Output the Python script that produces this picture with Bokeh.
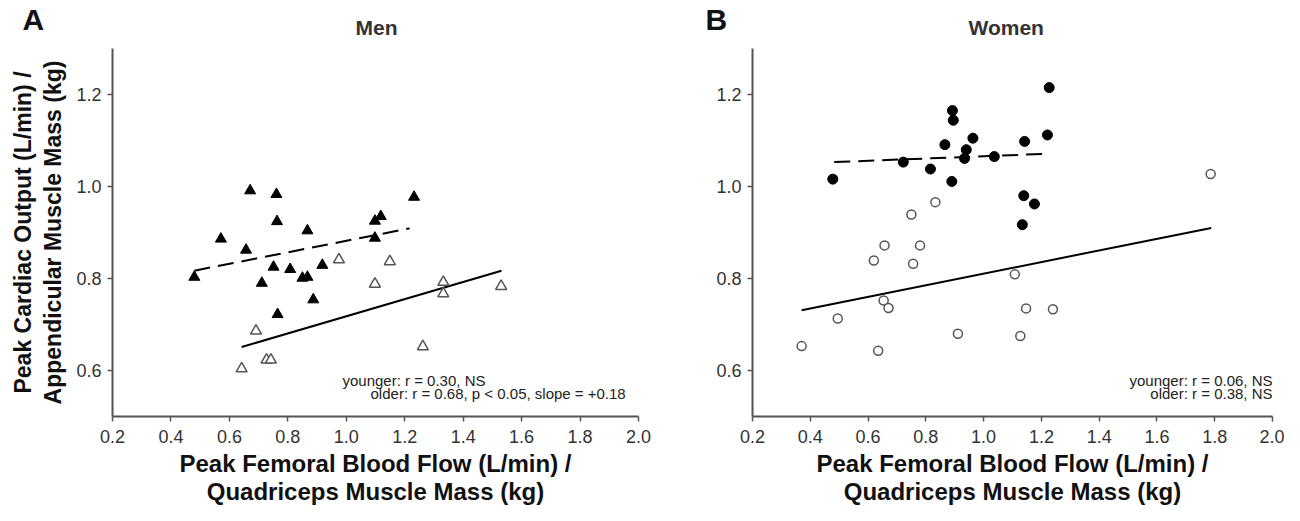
from bokeh.plotting import figure
from bokeh.models import Label, FixedTicker, Range1d, NumeralTickFormatter, Title
from bokeh.layouts import row
from bokeh.embed import file_html
from bokeh.resources import INLINE

FONT = "Liberation Sans"

# ---- data ----
x_ticks = [0.2, 0.4, 0.6, 0.8, 1.0, 1.2, 1.4, 1.6, 1.8, 2.0]
y_ticks = [0.6, 0.8, 1.0, 1.2]

men_young_x = [0.671, 0.761, 1.232, 1.118, 1.098, 0.763, 0.867, 0.571, 1.098, 0.657,
               0.918, 0.751, 0.808, 0.850, 0.867, 0.480, 0.711, 0.887, 0.765]
men_young_y = [0.991, 0.983, 0.977, 0.935, 0.925, 0.924, 0.904, 0.886, 0.888, 0.862,
               0.829, 0.825, 0.820, 0.801, 0.803, 0.803, 0.790, 0.754, 0.722]
men_old_x = [0.975, 1.149, 1.098, 1.332, 1.332, 1.530, 0.691, 1.262, 0.727, 0.742, 0.642]
men_old_y = [0.841, 0.837, 0.788, 0.792, 0.767, 0.783, 0.686, 0.652, 0.623, 0.623, 0.604]
men_young_fit_x = [0.48, 1.217]
men_young_fit_y = [0.817, 0.909]
men_old_fit_x = [0.642, 1.531]
men_old_fit_y = [0.651, 0.817]

women_young_x = [1.227, 0.892, 0.895, 0.963, 1.221, 1.142, 0.866, 0.940, 0.934, 1.037,
                 0.722, 0.816, 0.478, 0.890, 1.139, 1.176, 1.134]
women_young_y = [1.215, 1.165, 1.144, 1.105, 1.112, 1.098, 1.091, 1.080, 1.061, 1.065,
                 1.053, 1.038, 1.016, 1.011, 0.980, 0.962, 0.917]
women_old_x = [1.786, 0.833, 0.750, 0.657, 0.780, 0.620, 0.756, 1.108, 0.654, 0.671,
               1.147, 1.240, 0.495, 0.911, 1.127, 0.370, 0.635]
women_old_y = [1.027, 0.966, 0.939, 0.872, 0.872, 0.839, 0.832, 0.809, 0.752, 0.736,
               0.735, 0.733, 0.713, 0.680, 0.675, 0.653, 0.643]
women_young_fit_x = [0.483, 1.215]
women_young_fit_y = [1.053, 1.071]
women_old_fit_x = [0.370, 1.788]
women_old_fit_y = [0.731, 0.910]

x_label_1 = "Peak Femoral Blood Flow (L/min) /"
x_label_2 = "Quadriceps Muscle Mass (kg)"
y_label_1 = "Peak Cardiac Output (L/min) /"
y_label_2 = "Appendicular Muscle Mass (kg)"


def make_panel(width, left, right):
    p = figure(width=width, height=505, x_range=Range1d(0.2, 2.0), y_range=Range1d(0.5, 1.3),
               output_backend="svg", toolbar_location=None,
               min_border_left=left, min_border_right=right,
               min_border_top=48, min_border_bottom=89)
    p.outline_line_color = None
    p.grid.visible = False
    p.background_fill_color = "white"
    p.border_fill_color = "white"
    p.xaxis.ticker = FixedTicker(ticks=x_ticks)
    p.yaxis.ticker = FixedTicker(ticks=y_ticks)
    for ax in (p.xaxis, p.yaxis):
        ax.formatter = NumeralTickFormatter(format="0.0")
        ax.axis_line_color = "#555555"
        ax.axis_line_width = 2
        ax.major_tick_line_color = "#555555"
        ax.major_tick_line_width = 1.5
        ax.major_tick_out = 5
        ax.major_tick_in = 0
        ax.minor_tick_line_color = None
        ax.major_label_text_font = FONT
        ax.major_label_text_font_size = "18px"
        ax.major_label_text_color = "#333333"
    p.xaxis.major_label_standoff = 8
    p.yaxis.major_label_standoff = 6
    return p


def side_title(p, text, place, size, standoff, align="center", offset=0, color="#111111"):
    p.add_layout(Title(text=text, align=align, text_font=FONT, text_font_size=size,
                       text_font_style="bold", text_color=color, standoff=standoff,
                       offset=offset), place)


def lbl(p, x, y, text, size, align="center", color="#222222"):
    p.add_layout(Label(x=x, y=y, text=text, text_font=FONT, text_font_size=size,
                       text_align=align, text_baseline="middle", text_color=color))


# ---- Panel A ----
pA = make_panel(700, 112, 62)
pA.line(men_young_fit_x, men_young_fit_y, line_color="black", line_width=2, line_dash="16 8")
pA.line(men_old_fit_x, men_old_fit_y, line_color="black", line_width=2)
pA.scatter(men_old_x, men_old_y, marker="triangle", size=11, fill_color="white",
           line_color="#555555", line_width=1.5)
pA.scatter(men_young_x, men_young_y, marker="triangle", size=11, fill_color="black",
           line_color="black")

side_title(pA, "Men", "above", "21px", 19, align="left", offset=243, color="#333333")
side_title(pA, "A", "above", "30px", -63, align="left", offset=-90)
side_title(pA, y_label_2, "left", "23px", 15)
side_title(pA, y_label_1, "left", "23px", -10)
side_title(pA, x_label_1, "below", "24px", 4)
side_title(pA, x_label_2, "below", "24px", -5)
lbl(pA, 0.987, 0.5783, "younger: r = 0.30, NS", "15px", align="left")
lbl(pA, 1.083, 0.550, "older: r = 0.68, p < 0.05, slope = +0.18", "15px", align="left")

# ---- Panel B ----
pB = make_panel(584, 52, 12)
pB.line(women_young_fit_x, women_young_fit_y, line_color="black", line_width=2, line_dash="16 8")
pB.line(women_old_fit_x, women_old_fit_y, line_color="black", line_width=2)
pB.scatter(women_old_x, women_old_y, marker="circle", size=9, fill_color="white",
           line_color="#555555", line_width=1.5)
pB.scatter(women_young_x, women_young_y, marker="circle", size=10, fill_color="black",
           line_color="black")

side_title(pB, "Women", "above", "21px", 19, align="left", offset=216, color="#333333")
side_title(pB, "B", "above", "30px", -63, align="left", offset=-47)
side_title(pB, x_label_1, "below", "24px", 4)
side_title(pB, x_label_2, "below", "24px", -5)
lbl(pB, 2.0, 0.5783, "younger: r = 0.06, NS", "15px", align="right")
lbl(pB, 2.0, 0.550, "older: r = 0.38, NS", "15px", align="right")

layout = row(pA, pB, spacing=0)
open("out.html", "w").write(file_html(layout, INLINE))
